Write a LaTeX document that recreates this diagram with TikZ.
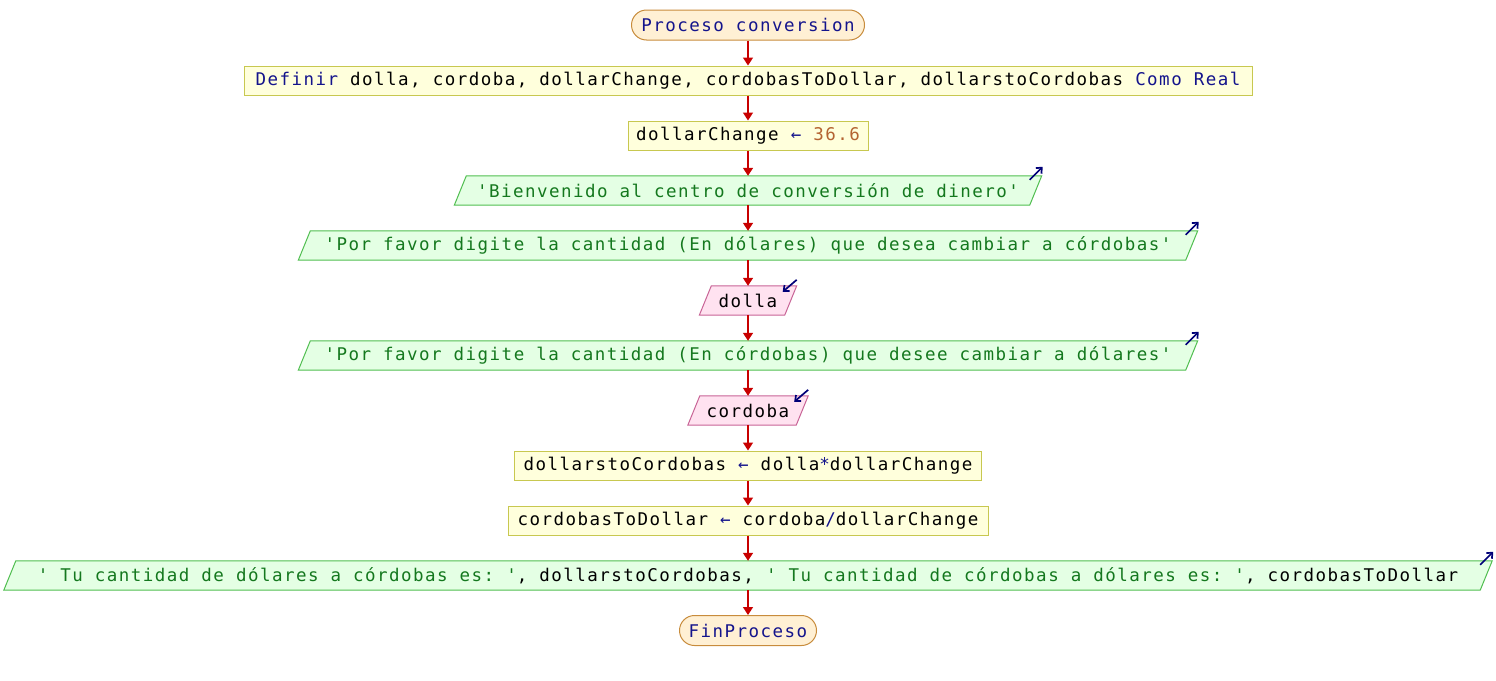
\documentclass[tikz,border=0pt]{standalone}
\usepackage{fontspec}
\setmonofont[LetterSpace=8.4]{DejaVu Sans Mono}
\usetikzlibrary{shapes.misc,arrows.meta,backgrounds}
\definecolor{termfill}{RGB}{255,240,212}
\definecolor{termdraw}{RGB}{200,140,60}
\definecolor{procfill}{RGB}{255,255,220}
\definecolor{procdraw}{RGB}{200,200,80}
\definecolor{outfill}{RGB}{228,255,228}
\definecolor{outdraw}{RGB}{80,190,80}
\definecolor{infill}{RGB}{255,226,240}
\definecolor{indraw}{RGB}{200,100,150}
\definecolor{kw}{RGB}{20,20,140}
\definecolor{strc}{RGB}{20,120,30}
\definecolor{numc}{RGB}{180,100,50}
\definecolor{flowred}{RGB}{200,0,0}
\definecolor{iconc}{RGB}{0,0,120}
\begin{document}
\begin{tikzpicture}[x=1pt,y=-1pt,
  font=\ttfamily\fontsize{17.5}{20}\selectfont,
  term/.style={rounded rectangle, draw=termdraw, fill=termfill, line width=1pt, minimum height=30, inner sep=0pt, text=kw},
  proc/.style={rectangle, draw=procdraw, fill=procfill, line width=1pt, minimum height=29, inner sep=0pt},
  slanttext/.style={rectangle, minimum height=29, inner sep=0pt},
  outp/.style={slanttext, text=strc},
  inp/.style={slanttext},
  outshape/.style={draw=outdraw, fill=outfill, line width=1pt},
  inshape/.style={draw=indraw, fill=infill, line width=1pt},
  flow/.style={draw=flowred, line width=1.5pt, -{Triangle[width=10pt,length=8pt]}},
  icon/.style={draw=iconc, line width=1.7pt, -{Straight Barb[width=8pt,length=4.5pt]}}
]
\useasboundingbox (0,0) rectangle (1496,680);

\node[term, minimum width=233] (n1) at (748,25) {Proceso conversion};
\node[proc, minimum width=1008] (n2) at (748,80.5) {\textcolor{kw}{Definir} dolla, cordoba, dollarChange, cordobasToDollar, dollarstoCordobas \textcolor{kw}{Como Real}};
\node[proc, minimum width=240] (n3) at (748,135.5) {dollarChange \textcolor{kw}{←} \textcolor{numc}{36.6}};
\node[outp, minimum width=575] (n4) at (748,190.5) {'Bienvenido al centro de conversión de dinero'};
\node[outp, minimum width=887] (n5) at (748,245.5) {'Por favor digite la cantidad (En dólares) que desea cambiar a córdobas'};
\node[inp, minimum width=85] (n6) at (748,300.5) {dolla};
\node[outp, minimum width=887] (n7) at (748,355.5) {'Por favor digite la cantidad (En córdobas) que desee cambiar a dólares'};
\node[inp, minimum width=108] (n8) at (748,410.5) {cordoba};
\node[proc, minimum width=467] (n9) at (748,465.5) {dollarstoCordobas \textcolor{kw}{←} dolla\textcolor{kw}{*}dollarChange};
\node[proc, minimum width=480] (n10) at (748,520.5) {cordobasToDollar \textcolor{kw}{←} cordoba\textcolor{kw}{/}dollarChange};
\node[outp, minimum width=1476] (n11) at (748,575.5) {' Tu cantidad de dólares a córdobas es: '\textcolor{black}{, dollarstoCordobas, }' Tu cantidad de córdobas a dólares es: '\textcolor{black}{, cordobasToDollar}};
\node[term, minimum width=137] (n12) at (748,630.5) {FinProceso};

\begin{scope}[on background layer]
\foreach \n in {n4,n5,n7,n11}
  \draw[outshape] ([xshift=-6]\n.south west) -- ([xshift=-6]\n.south east) -- ([xshift=6]\n.north east) -- ([xshift=6]\n.north west) -- cycle;
\foreach \n in {n6,n8}
  \draw[inshape] ([xshift=-6]\n.south west) -- ([xshift=-6]\n.south east) -- ([xshift=6]\n.north east) -- ([xshift=6]\n.north west) -- cycle;
\end{scope}

\foreach \a/\b in {n1/n2,n2/n3,n3/n4,n4/n5,n5/n6,n6/n7,n7/n8,n8/n9,n9/n10,n10/n11,n11/n12}
  \draw[flow] (\a.south) -- (\b.north);

\foreach \n in {n4,n5,n7,n11}
  \draw[icon] ([shift={(-6,4)}]\n.north east) -- ([shift={(7,-9)}]\n.north east);
\foreach \n in {n6,n8}
  \draw[icon] ([shift={(6,-6)}]\n.north east) -- ([shift={(-8,6)}]\n.north east);
\end{tikzpicture}
\end{document}
